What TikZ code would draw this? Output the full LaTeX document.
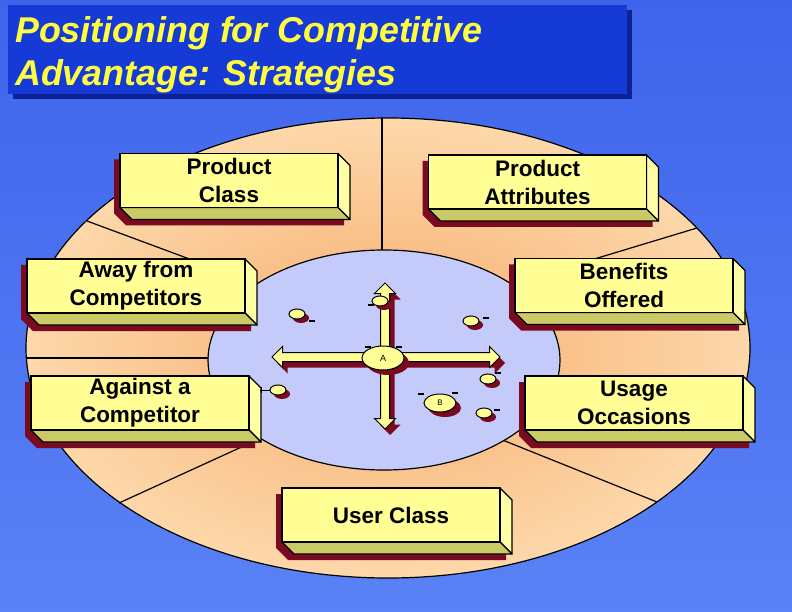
\documentclass[tikz,border=0pt]{standalone}
\usepackage{fontspec}
\setmainfont{Liberation Sans}
\usepackage{tikz}
\usetikzlibrary{shapes.geometric,shapes.arrows,shadows,positioning}
\definecolor{bgtop}{RGB}{62,100,235}
\definecolor{bgbot}{RGB}{90,130,246}
\definecolor{titleblue}{RGB}{22,58,214}
\definecolor{titleshade}{RGB}{12,34,150}
\definecolor{titleyellow}{RGB}{255,255,64}
\definecolor{ringin}{RGB}{246,172,110}
\definecolor{ringout}{RGB}{253,216,170}
\definecolor{core}{RGB}{196,202,250}
\definecolor{facefront}{RGB}{255,255,150}
\definecolor{faceside}{RGB}{255,255,165}
\definecolor{facebottom}{RGB}{202,202,102}
\definecolor{shadered}{RGB}{122,10,32}
\tikzstyle{title box}=[fill=titleblue, draw=none, shape=rectangle,
        minimum width=619pt, minimum height=89pt,
        drop shadow={shadow xshift=5pt, shadow yshift=-5pt, fill=titleshade, opacity=1}]
\tikzstyle{title text}=[text=titleyellow, align=left, inner sep=0pt,
        font=\fontsize{35.8}{43}\selectfont\bfseries\itshape]
\tikzstyle{cube front}=[fill=facefront, draw=black, line width=1.2pt, shape=rectangle,
        minimum width=218pt, minimum height=54pt, inner sep=0pt, align=center,
        font=\fontsize{22.5}{28}\selectfont\bfseries]
\tikzstyle{cube face}=[draw=black, line width=1.2pt, line join=round]
\tikzstyle{brand}=[fill=facefront, draw=black, line width=1pt, shape=ellipse, inner sep=0pt,
        drop shadow={shadow xshift=4pt, shadow yshift=-4pt, fill=shadered, opacity=1}]
\tikzstyle{pos arrow}=[fill=facefront, draw=black, line width=1pt, shape=double arrow,
        inner sep=4pt, double arrow head extend=6pt,
        drop shadow={shadow xshift=5pt, shadow yshift=-6pt, fill=shadered, opacity=1}]
\tikzstyle{ring line}=[-, draw=black, line width=1.2pt]

\begin{document}
\begin{tikzpicture}[x=1pt, y=-1pt]
    \useasboundingbox (0, 0) rectangle (792, 612);
    \shade [top color=bgtop, bottom color=bgbot] (0, 0) rectangle (792, 612);

    \node [style=title box] (titlebox) at (317.5, 49.5) {};
    \node [style=title text, anchor=north west] (title) at (15, 16)
        {Positioning for Competitive\\Advantage: Strategies};

    \shade [draw=black, line width=1.2pt, inner color=ringin, outer color=ringout]
        (388, 348) ellipse [x radius=362, y radius=230];
    \draw [style=ring line] (382, 118) to (382, 262);
    \draw [style=ring line] (87, 221) to (265, 287);
    \draw [style=ring line] (26, 358) to (215, 358);
    \draw [style=ring line] (119, 503) to (270, 434);
    \draw [style=ring line] (657, 502) to (495, 437);
    \draw [style=ring line] (697, 228) to (505, 286);
    \filldraw [fill=core, draw=black, line width=1.2pt]
        (384, 360) ellipse [x radius=176, y radius=110];

    \foreach \nm/\cx/\cy/\txt in {pc/229/180.5/{Product\\Class},
            pa/537.5/182/{Product\\Attributes},
            af/136/286/{Away from\\Competitors},
            bo/624/285.5/{Benefits\\Offered},
            ac/140/403/{Against a\\Competitor},
            uo/634/403/{Usage\\Occasions},
            uc/391/515/{User Class}}
    {
        \fill [shadered] (\cx-115, \cy-21) -- (\cx+103, \cy-21) -- (\cx+115, \cy-9)
            -- (\cx+115, \cy+45) -- (\cx-103, \cy+45) -- (\cx-115, \cy+33) -- cycle;
        \filldraw [style=cube face, fill=faceside] (\cx+109, \cy-27) -- (\cx+121, \cy-15)
            -- (\cx+121, \cy+39) -- (\cx+109, \cy+27) -- cycle;
        \filldraw [style=cube face, fill=facebottom] (\cx-109, \cy+27) -- (\cx+109, \cy+27)
            -- (\cx+121, \cy+39) -- (\cx-97, \cy+39) -- cycle;
        \node [style=cube front] (\nm) at (\cx, \cy) {\txt};
    }

    \node [style=pos arrow, minimum height=146pt, rotate=90] (vert) at (385, 356) {};
    \node [style=pos arrow, minimum height=228pt] (horiz) at (386, 357) {};

    \foreach \nm/\x/\y in {c/297/314, d/380/301, e/471/321, f/278/390, g/488/379, h/484/413}
        \node [style=brand, minimum width=16pt, minimum height=10pt] (\nm) at (\x, \y) {};
    \draw [line width=1pt] (f.west) to ++(-10, 0);
    \draw [line width=1pt] (f.west) ++(-8, -3) to ++(0, 6);
    \foreach \x/\y in {312/321, 371/305, 486/318, 498/373, 497/410, 421/394, 455/393, 368/347, 399/347, 400/370}
        \fill [black] (\x-3, \y-1.2) rectangle (\x+3, \y+1.2);

    \node [style=brand, minimum width=42pt, minimum height=24pt,
        drop shadow={shadow xshift=5pt, shadow yshift=-5pt, fill=shadered, opacity=1},
        font=\fontsize{9}{9}\selectfont] (a) at (383, 358) {A};
    \node [style=brand, minimum width=32pt, minimum height=18pt,
        drop shadow={shadow xshift=5pt, shadow yshift=-5pt, fill=shadered, opacity=1},
        font=\fontsize{8}{8}\selectfont] (b) at (440, 403) {B};
\end{tikzpicture}
\end{document}
